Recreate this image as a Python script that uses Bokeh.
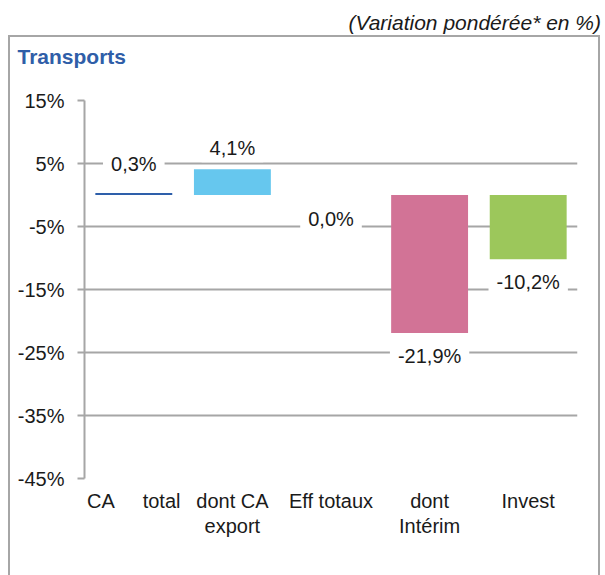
from bokeh.plotting import figure
from bokeh.layouts import column
from bokeh.models import (ColumnDataSource, Range1d, FixedTicker, LinearAxis)
from bokeh.core.properties import value
from bokeh.embed import file_html
from bokeh.resources import INLINE

# ---- data ----
categories = ["CA total", "dont CA export", "Eff totaux", "dont Intérim", "Invest"]
category_line1 = ["CA\u00a0\u00a0\u00a0\u00a0\u00a0total", "dont CA", "Eff totaux", "dont", "Invest"]
category_line2 = ["", "export", "", "Intérim", ""]
values = [0.3, 4.1, 0.0, -21.9, -10.2]
value_labels = ["0,3%", "4,1%", "0,0%", "-21,9%", "-10,2%"]
y_ticks = [15, 5, -5, -15, -25, -35, -45]
y_tick_labels = ["15%", "5%", "-5%", "-15%", "-25%", "-35%", "-45%"]
title_text = "Transports"
caption_text = "(Variation pondérée* en %)"

# ---- styles ----
bar_colors = ["#2E5FAA", "#66C7EE", "#8DB3E2", "#D27396", "#9CC75B"]
label_offsets = [-29.5, -21, 23.5, 23.5, 23]
FONT_NAME = "Liberation Sans"
FONT = value(FONT_NAME)
GRAY = "#A6A6A6"
TXT = "#1a1a1a"
FS = "20px"

x_pos = list(range(1, len(categories) + 1))
src = ColumnDataSource(dict(x=x_pos, val=values, lbl=value_labels,
                            color=bar_colors, off=label_offsets))


def blank_fig(w, h):
    f = figure(width=w, height=h, x_range=Range1d(0, w), y_range=Range1d(h, 0),
               output_backend="svg", toolbar_location=None, min_border=0,
               frame_align=False)
    f.axis.visible = False
    f.grid.visible = False
    f.outline_line_color = None
    f.title.visible = False
    return f


# caption above the box
fig_top = blank_fig(605, 35)
fig_top.text(x=[600.5], y=[21.5], text=[caption_text], text_align="right",
             text_baseline="middle", text_font=FONT, text_font_style="italic",
             text_font_size="21px", text_color=TXT)

# box title
fig_title = blank_fig(588, 43)
fig_title.text(x=[7], y=[18.5], text=[title_text], text_align="left",
               text_baseline="middle", text_font=FONT, text_font_style="bold",
               text_font_size="21px", text_color="#2F5EA8")

# main chart
p = figure(width=588, height=495,
           x_range=Range1d(0.5, len(categories) + 0.5),
           y_range=Range1d(-45, 15),
           output_backend="svg", toolbar_location=None, frame_align=False,
           min_border_left=74, min_border_right=21,
           min_border_top=20, min_border_bottom=97)
p.outline_line_color = None
p.title.visible = False

p.vbar(x="x", top="val", bottom=0, width=0.78, fill_color="color",
       line_color=None, source=src)

p.text(x="x", y="val", text="lbl", y_offset="off", source=src,
       text_align="center", text_baseline="middle",
       text_font=FONT, text_font_size=FS, text_color=TXT,
       background_fill_color="white", padding=[8, 3])

# y axis
p.yaxis.ticker = FixedTicker(ticks=y_ticks)
p.yaxis.major_label_overrides = {t: l for t, l in zip(y_ticks, y_tick_labels)}
p.yaxis.axis_line_color = GRAY
p.yaxis.axis_line_width = 2
p.yaxis.major_tick_line_color = GRAY
p.yaxis.major_tick_line_width = 2
p.yaxis.major_tick_out = 7
p.yaxis.major_tick_in = 0
p.yaxis.minor_tick_line_color = None
p.yaxis.major_label_standoff = 13
p.yaxis.major_label_text_font = FONT_NAME
p.yaxis.major_label_text_font_size = FS
p.yaxis.major_label_text_color = TXT


def style_xaxis(ax, labels, standoff):
    ax.ticker = FixedTicker(ticks=x_pos)
    ax.major_label_overrides = {x: l for x, l in zip(x_pos, labels)}
    ax.axis_line_color = None
    ax.major_tick_line_color = None
    ax.minor_tick_line_color = None
    ax.major_tick_out = 0
    ax.major_tick_in = 0
    ax.major_label_standoff = standoff
    ax.major_label_text_font = FONT_NAME
    ax.major_label_text_font_size = FS
    ax.major_label_text_color = TXT


style_xaxis(p.xaxis[0], category_line1, 11)
ax2 = LinearAxis()
p.add_layout(ax2, "below")
style_xaxis(ax2, category_line2, 0)

p.xgrid.grid_line_color = None
p.ygrid.grid_line_color = GRAY
p.ygrid.grid_line_width = 2
p.ygrid.ticker = FixedTicker(ticks=y_ticks)

box = column(fig_title, p, styles={
    "border-left": f"2px solid {GRAY}",
    "border-right": f"2px solid {GRAY}",
    "border-top": f"2px solid {GRAY}",
    "margin-left": "8px",
})
layout = column(fig_top, box)

open("out.html", "w").write(file_html(layout, INLINE))
